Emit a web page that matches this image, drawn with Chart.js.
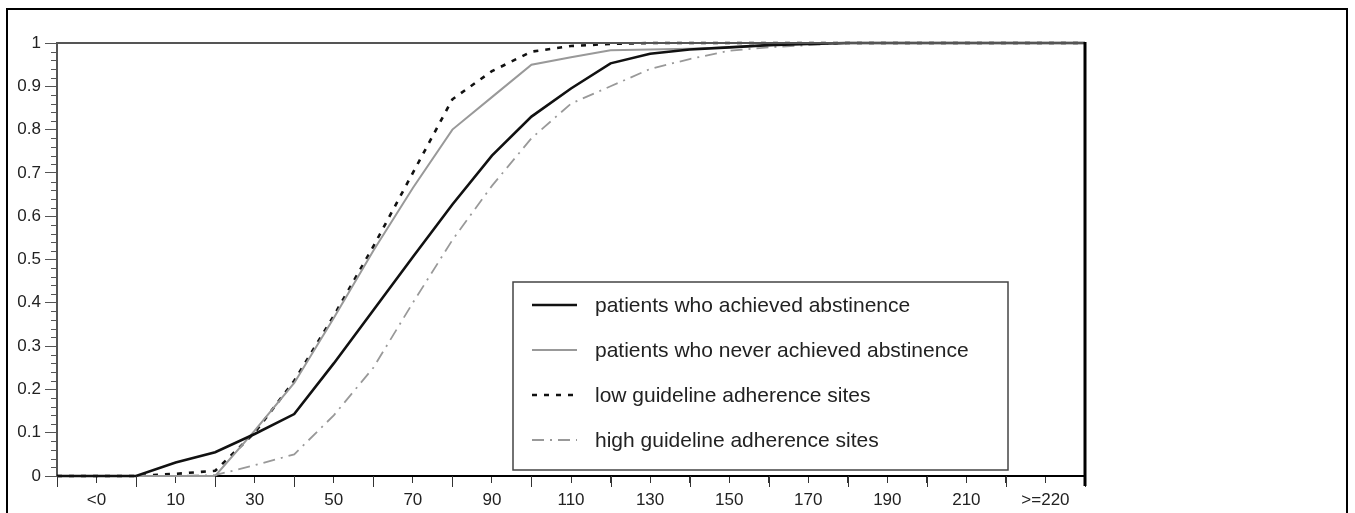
<!DOCTYPE html>
<html>
<head>
<meta charset="utf-8">
<title>Abstinence curves</title>
<script src="https://cdn.jsdelivr.net/npm/chart.js@4.4.1/dist/chart.umd.min.js"></script>
<style>
  html, body { margin: 0; padding: 0; background: #fff; }
  #frame {
    position: absolute; left: 6px; top: 8px; width: 1342px; height: 520px;
    border: 2px solid #000; border-bottom: none; box-sizing: border-box;
  }
  #chart { position: absolute; left: 0; top: 0; }
</style>
</head>
<body>
<div id="frame"></div>
<canvas id="chart" width="1355" height="513"></canvas>
<script>
// x axis: one position per tick, only every other one is labelled
const tickLabels = ['', '<0', '', '10', '', '30', '', '50', '', '70', '', '90', '', '110', '',
  '130', '', '150', '', '170', '', '190', '', '210', '', '>=220', ''];

// cumulative proportions, one value per tick position
const achieved = [0, 0, 0, 0.031, 0.055, 0.097, 0.143, 0.26, 0.383, 0.506, 0.627, 0.74, 0.83,
  0.895, 0.953, 0.975, 0.985, 0.99, 0.995, 0.998, 1, 1, 1, 1, 1, 1, 1];
const neverAchieved = [0, 0, 0, 0, 0, 0.105, 0.215, 0.365, 0.52, 0.665, 0.8, 0.875, 0.95,
  0.967, 0.983, 0.985, 0.987, 0.99, 0.995, 1, 1, 1, 1, 1, 1, 1, 1];
const lowAdherence = [0, 0, 0, 0.005, 0.012, 0.1, 0.22, 0.37, 0.53, 0.7, 0.87, 0.935, 0.98,
  0.993, 0.998, 1, 1, 1, 1, 1, 1, 1, 1, 1, 1, 1, 1];
const highAdherence = [0, 0, 0, 0, 0.002, 0.025, 0.05, 0.14, 0.25, 0.4, 0.545, 0.67, 0.78,
  0.86, 0.9, 0.94, 0.963, 0.982, 0.99, 0.995, 1, 1, 1, 1, 1, 1, 1];

const seriesNames = [
  'patients who achieved abstinence',
  'patients who never achieved abstinence',
  'low guideline adherence sites',
  'high guideline adherence sites'
];

const FONT = '"Liberation Sans", Arial, sans-serif';

// top line, right border, minor ticks and the boxed legend
const framePlugin = {
  id: 'frame',
  afterDraw(chart) {
    const { ctx, chartArea: a, scales } = chart;
    ctx.save();
    ctx.lineCap = 'butt';

    // minor ticks on the y axis
    ctx.strokeStyle = '#555';
    ctx.lineWidth = 1;
    for (let i = 1; i < 50; i++) {
      if (i % 5 === 0) continue;
      const y = Math.round(scales.y.getPixelForValue(i / 50)) + 0.5;
      ctx.beginPath();
      ctx.moveTo(a.left - 6, y);
      ctx.lineTo(a.left, y);
      ctx.stroke();
    }

    // the unlabelled x ticks run a little longer
    ctx.strokeStyle = '#333';
    tickLabels.forEach((lab, i) => {
      if (i % 2 !== 0) return;
      const x = Math.round(scales.x.getPixelForValue(i)) + 0.5;
      ctx.beginPath();
      ctx.moveTo(x, a.bottom);
      ctx.lineTo(x, a.bottom + 11);
      ctx.stroke();
    });

    // top edge
    ctx.strokeStyle = '#555';
    ctx.lineWidth = 2;
    ctx.beginPath();
    ctx.moveTo(a.left, a.top);
    ctx.lineTo(a.right, a.top);
    ctx.stroke();

    // right edge
    ctx.strokeStyle = '#000';
    ctx.lineWidth = 3;
    ctx.beginPath();
    ctx.moveTo(a.right, a.top - 1);
    ctx.lineTo(a.right, a.bottom + 10);
    ctx.stroke();

    // legend box
    const box = { left: 513, top: 282, right: 1008, bottom: 470 };
    ctx.fillStyle = '#fff';
    ctx.fillRect(box.left, box.top, box.right - box.left, box.bottom - box.top);
    ctx.strokeStyle = '#444';
    ctx.lineWidth = 1.5;
    ctx.strokeRect(box.left, box.top, box.right - box.left, box.bottom - box.top);

    ctx.font = '21px ' + FONT;
    ctx.textBaseline = 'middle';
    chart.data.datasets.forEach((ds, i) => {
      const y = 305 + i * 45;
      ctx.strokeStyle = ds.borderColor;
      ctx.lineWidth = ds.borderWidth;
      ctx.setLineDash(ds.borderDash || []);
      ctx.beginPath();
      ctx.moveTo(532, y);
      ctx.lineTo(577, y);
      ctx.stroke();
      ctx.setLineDash([]);
      ctx.fillStyle = '#222';
      ctx.fillText(ds.label, 595, y + 1);
    });
    ctx.restore();
  }
};

new Chart(document.getElementById('chart'), {
  type: 'line',
  data: {
    labels: tickLabels,
    datasets: [
      { label: seriesNames[0], data: achieved, borderColor: '#111', borderWidth: 2.6 },
      { label: seriesNames[1], data: neverAchieved, borderColor: '#999', borderWidth: 2 },
      { label: seriesNames[2], data: lowAdherence, borderColor: '#111', borderWidth: 2.6, borderDash: [5, 7] },
      { label: seriesNames[3], data: highAdherence, borderColor: '#999', borderWidth: 1.8, borderDash: [12, 6, 2, 6] }
    ]
  },
  options: {
    responsive: false,
    animation: false,
    devicePixelRatio: 1,
    layout: { padding: { left: 0, right: 270, top: 43, bottom: 0 } },
    elements: {
      point: { radius: 0 },
      line: { tension: 0, fill: false }
    },
    datasets: { line: { clip: false } },
    plugins: {
      legend: { display: false },
      tooltip: { enabled: false }
    },
    scales: {
      x: {
        type: 'category',
        offset: false,
        grid: { drawOnChartArea: false, tickLength: 7, color: '#333', lineWidth: 1 },
        border: { color: '#000', width: 2 },
        ticks: {
          autoSkip: false, maxRotation: 0, padding: 7,
          color: '#222', font: { family: FONT, size: 17 }
        },
        afterFit: s => { s.height = 37; }
      },
      y: {
        min: 0,
        max: 1,
        grid: { drawOnChartArea: false, tickLength: 12, color: '#555', lineWidth: 1 },
        border: { color: '#555', width: 2 },
        ticks: {
          stepSize: 0.1, padding: 4, color: '#222',
          font: { family: FONT, size: 17 },
          callback: v => String(Math.round(v * 10) / 10)
        },
        afterFit: s => { s.width = 57; }
      }
    }
  },
  plugins: [framePlugin]
});
</script>
</body>
</html>
